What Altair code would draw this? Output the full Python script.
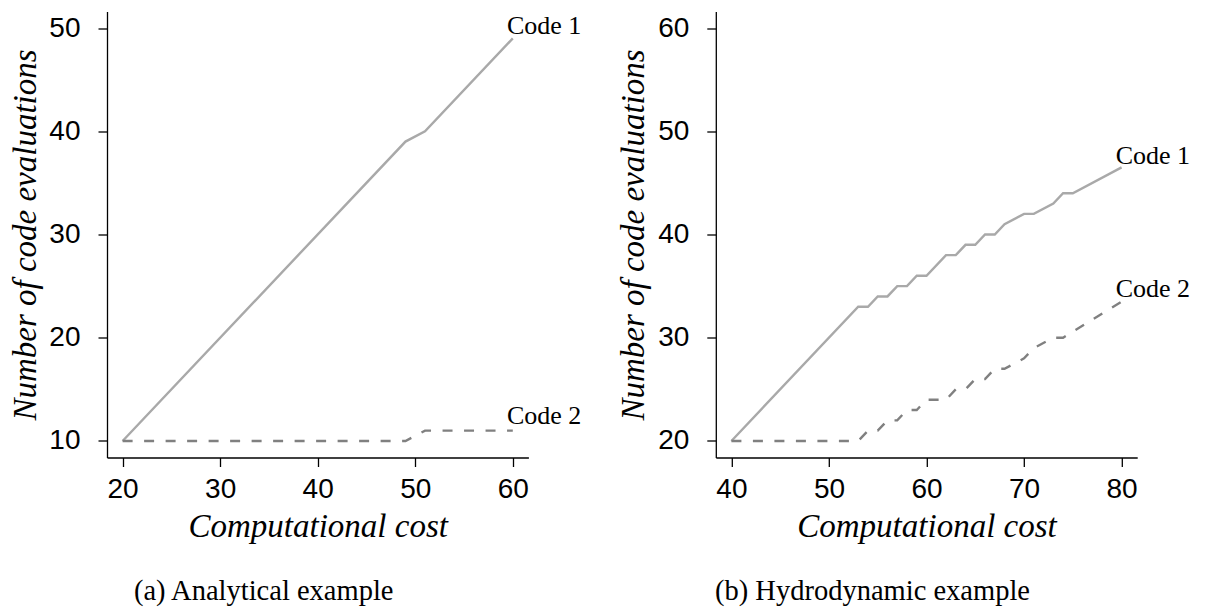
import altair as alt
import pandas as pd

# ---- data ----
a_c1_cost = [20, 49, 51, 60]
a_c1_eval = [10, 39, 40, 49]
a_c2_cost = [20, 49, 51, 60]
a_c2_eval = [10, 10, 11, 11]

b_c1_cost = [40, 53, 54, 55, 56, 57, 58, 59, 60, 62, 63, 64, 65, 66, 67, 68, 70, 71, 73, 74, 75, 80]
b_c1_eval = [20, 33, 33, 34, 34, 35, 35, 36, 36, 38, 38, 39, 39, 40, 40, 41, 42, 42, 43, 44, 44, 46.5]
b_c2_cost = [40, 53, 54, 55, 56, 57, 58, 59, 60, 62, 63, 64, 65, 66, 67, 68, 70, 71, 73, 74, 80]
b_c2_eval = [20, 20, 21, 21, 22, 22, 23, 23, 24, 24, 25, 25, 26, 26, 27, 27, 28, 29, 30, 30, 33.5]

labels = ["Code 1", "Code 2"]
a_label_cost = [59.4, 59.4]
a_label_eval = [49.4, 11.6]
b_label_cost = [79.4, 79.4]
b_label_eval = [46.8, 33.9]

a_xticks = [20, 30, 40, 50, 60]
a_yticks = [10, 20, 30, 40, 50]
b_xticks = [40, 50, 60, 70, 80]
b_yticks = [20, 30, 40, 50, 60]

a_xdom = [18.4, 61.6]
a_ydom = [8.4, 51.6]
b_xdom = [38.4, 81.6]
b_ydom = [18.4, 61.6]

captions = ["(a) Analytical example", "(b) Hydrodynamic example"]

W = 421.4
H = 446


def panel(c1x, c1y, c2x, c2y, lx, ly, xdom, ydom, xt, yt, caption):
    d1 = pd.DataFrame({"cost": c1x, "evals": c1y, "i": list(range(len(c1x)))})
    d2 = pd.DataFrame({"cost": c2x, "evals": c2y, "i": list(range(len(c2x)))})
    dl = pd.DataFrame({"cost": lx, "evals": ly, "label": labels})
    xsc = alt.Scale(domain=xdom, nice=False, zero=False)
    ysc = alt.Scale(domain=ydom, nice=False, zero=False)
    xax = alt.Axis(
        values=xt, title="Computational cost", grid=False,
        domainColor="black", domainWidth=1.3, tickColor="black", tickWidth=1.3,
        tickSize=9, labelFont="Liberation Sans", labelFontSize=28, labelColor="black",
        labelPadding=9, labelFlush=False, labelOverlap=False,
        titleFont="Liberation Serif", titleFontStyle="italic", titleFontWeight="normal",
        titleFontSize=33, titleColor="black", titleX=W / 2, titleY=78.5,
        titleAlign="center", titleBaseline="alphabetic",
    )
    yax = alt.Axis(
        values=yt, title="Number of code evaluations", grid=False,
        domainColor="black", domainWidth=1.3, tickColor="black", tickWidth=1.3,
        tickSize=9, labelFont="Liberation Sans", labelFontSize=28, labelColor="black",
        labelPadding=18, labelAngle=0, labelAlign="right", labelBaseline="middle",
        labelFlush=False, labelOverlap=False,
        titleFont="Liberation Serif", titleFontStyle="italic", titleFontWeight="normal",
        titleFontSize=33, titleColor="black", titleX=-72, titleY=H / 2,
        titleAngle=270, titleAlign="center", titleBaseline="alphabetic",
    )
    l1 = alt.Chart(d1).mark_line(color="#a9a9a9", strokeWidth=2.4).encode(
        x=alt.X("cost:Q", scale=xsc, axis=xax),
        y=alt.Y("evals:Q", scale=ysc, axis=yax),
        order="i:Q",
    )
    l2 = alt.Chart(d2).mark_line(color="#808080", strokeWidth=2.4, strokeDash=[10, 11.5]).encode(
        x=alt.X("cost:Q", scale=xsc),
        y=alt.Y("evals:Q", scale=ysc),
        order="i:Q",
    )
    t = alt.Chart(dl).mark_text(
        align="left", baseline="alphabetic", font="Liberation Serif",
        fontSize=26, color="black",
    ).encode(
        x=alt.X("cost:Q", scale=xsc),
        y=alt.Y("evals:Q", scale=ysc),
        text="label:N",
    )
    return alt.layer(l1, l2, t).properties(
        width=W, height=H,
        title=alt.TitleParams(
            caption, orient="bottom", anchor="middle", dx=-54, offset=34,
            font="Liberation Serif", fontSize=28.5, fontWeight="normal",
            color="black", baseline="top",
        ),
    )


left = panel(a_c1_cost, a_c1_eval, a_c2_cost, a_c2_eval, a_label_cost, a_label_eval,
             a_xdom, a_ydom, a_xticks, a_yticks, captions[0])
right = panel(b_c1_cost, b_c1_eval, b_c2_cost, b_c2_eval, b_label_cost, b_label_eval,
              b_xdom, b_ydom, b_xticks, b_yticks, captions[1])

chart = alt.hconcat(left, right, spacing=186.8, bounds="flush").properties(
    padding={"left": 0, "top": 2.5, "right": 0, "bottom": 0},
    background="white",
).configure_view(stroke="transparent")

chart.save("out.html", embed_options={"renderer": "svg", "actions": False})
